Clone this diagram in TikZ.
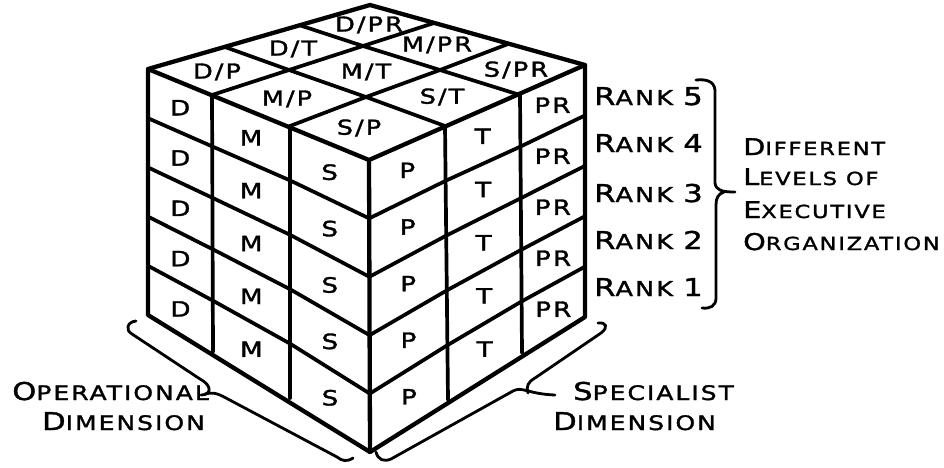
\documentclass[tikz,border=0pt]{standalone}
\usepackage{fontspec}
\newfontfamily\lf{DejaVu Sans}[FakeStretch=1.25,LetterSpace=10,FakeBold=1.6]
\usetikzlibrary{calc}
\newcommand\Cap[1]{{\fontsize{\capsz}{\capsz}\selectfont #1}}
\begin{document}
\begin{tikzpicture}[x=1pt,y=-1pt,
  edge/.style={line width=3.7pt,line join=round,line cap=round},
  outline/.style={line width=4.3pt,line join=round,line cap=round},
  brace/.style={line width=2.8pt,line cap=round,line join=round},
  cell/.style={font=\lf\fontsize{21}{21}\selectfont,inner sep=0pt},
  topcell/.style={font=\lf\fontsize{20.5}{20.5}\selectfont,inner sep=0pt},
  rank/.style={font=\lf\def\capsz{24.5}\fontsize{20.5}{20.5}\selectfont,anchor=base west,inner sep=0pt},
  levels/.style={font=\lf\def\capsz{23}\fontsize{18}{18}\selectfont,anchor=base west,inner sep=0pt},
  dimtext/.style={font=\lf\def\capsz{24.5}\fontsize{20}{20}\selectfont,inner sep=0pt},
]
\useasboundingbox (0,0) rectangle (944,467);
% vertical column lines (top / bottom)
\coordinate (ct0) at (148,69);  \coordinate (cb0) at (148,315);
\coordinate (ct1) at (212,95);  \coordinate (cb1) at (213,352);
\coordinate (ct2) at (290,126); \coordinate (cb2) at (290,398);
\coordinate (ct3) at (369,160); \coordinate (cb3) at (370,452);
\coordinate (ct4) at (445,126); \coordinate (cb4) at (448,400);
\coordinate (ct5) at (520,95);  \coordinate (cb5) at (522,353);
\coordinate (ct6) at (585,65);  \coordinate (cb6) at (585,317);
% top face grid
\coordinate (T01) at (225,47); \coordinate (T02) at (299,25); \coordinate (A) at (370,5);
\coordinate (T11) at (289,70); \coordinate (T12) at (363,46); \coordinate (T13) at (434,23);
\coordinate (T21) at (366,97); \coordinate (T22) at (440,70); \coordinate (T23) at (508,44);
% grid points on the side faces
\foreach \c in {0,...,6}{
  \foreach \k in {0,...,5}{
    \coordinate (g\c-\k) at ($(ct\c)!\k/5!(cb\c)$);
  }
}
% side faces
\foreach \c in {1,2,4,5}{ \draw[edge] (ct\c) -- (cb\c); }
\foreach \k in {1,...,4}{
  \draw[edge] (g0-\k) -- (g1-\k) -- (g2-\k) -- (g3-\k) -- (g4-\k) -- (g5-\k) -- (g6-\k);
}
% top face grid
\draw[edge] (ct1) -- (T11) -- (T12) -- (T13);
\draw[edge] (ct2) -- (T21) -- (T22) -- (T23);
\draw[edge] (T01) -- (T11) -- (T21) -- (ct4);
\draw[edge] (T02) -- (T12) -- (T22) -- (ct5);
% outline
\draw[outline] (ct0) -- (A) -- (ct6) -- (cb6) -- (cb3) -- (cb0) -- cycle;
\draw[outline] (ct0) -- (ct3) -- (ct6);
\draw[outline] (ct3) -- (cb3);
% side labels
\foreach \c/\t in {0/D,1/M,2/S,3/P,4/T,5/PR}{
  \foreach \r in {0,...,4}{
    \pgfmathtruncatemacro\cn{\c+1}
    \pgfmathtruncatemacro\rn{\r+1}
    \node[cell] (L\c-\r) at ($(g\c-\r)!0.5!(g\cn-\rn)$) {\t};
  }
}
% top labels
\node[topcell] (DP)  at (217,72)  {D/P};
\node[topcell] (DT)  at (293,49)  {D/T};
\node[topcell] (DPR) at (369,25)  {D/PR};
\node[topcell] (MP)  at (287,99)  {M/P};
\node[topcell] (MT)  at (366,72)  {M/T};
\node[topcell] (MPR) at (437,45)  {M/PR};
\node[topcell] (SP)  at (359,128) {S/P};
\node[topcell] (ST)  at (442,97)  {S/T};
\node[topcell] (SPR) at (516,70)  {S/PR};
% ranks
\node[rank] (r5) at (594,105) {\Cap{R}ANK \Cap{5}};
\node[rank] (r4) at (594,152) {\Cap{R}ANK \Cap{4}};
\node[rank] (r3) at (594,202) {\Cap{R}ANK \Cap{3}};
\node[rank] (r2) at (594,249) {\Cap{R}ANK \Cap{2}};
\node[rank] (r1) at (594,296) {\Cap{R}ANK \Cap{1}};
% rank bracket
\draw[brace] (696,80) .. controls (706,79) and (714,81) .. (715,90) -- (715,183)
  .. controls (716,190) and (721,192) .. (735,192);
\draw[brace] (724,192) .. controls (718,194) and (716,198) .. (716,205) -- (716,298)
  .. controls (716,306) and (710,309) .. (702,308);
% levels text
\node[levels] (l1) at (743,155) {\Cap{D}IFFERENT};
\node[levels] (l2) at (743,185) {\Cap{L}EVELS OF};
\node[levels] (l3) at (743,218) {\Cap{E}XECUTIVE};
\node[levels] (l4) at (743,250) {\Cap{O}RGANIZATION};
% operational brace
\draw[brace] (136,321) .. controls (127,322) and (125,330) .. (132,334) -- (200,379)
  .. controls (213,386) and (211,395) .. (201,395);
\draw[brace] (205,394) .. controls (212,392) and (217,393) .. (226,398) -- (337,457)
  .. controls (342,461) and (347,462) .. (353,458);
% specialist brace
\draw[brace] (376,452) .. controls (378,460) and (384,462) .. (391,459) -- (513,391)
  .. controls (522,386) and (528,394) .. (555,395);
\draw[brace] (528,393) .. controls (526,386) and (528,382) .. (535,378) -- (601,333)
  .. controls (609,327) and (606,322) .. (598,323);
% dimension texts
\node[dimtext,anchor=base east] (op1) at (209,400) {\Cap{O}PERATIONAL};
\node[dimtext,anchor=base east] (op2) at (205,430) {\Cap{D}IMENSION};
\node[dimtext,anchor=base west] (sp1) at (573,400) {\Cap{S}PECIALIST};
\node[dimtext,anchor=base west] (sp2) at (553,430) {\Cap{D}IMENSION};
\end{tikzpicture}
\end{document}
